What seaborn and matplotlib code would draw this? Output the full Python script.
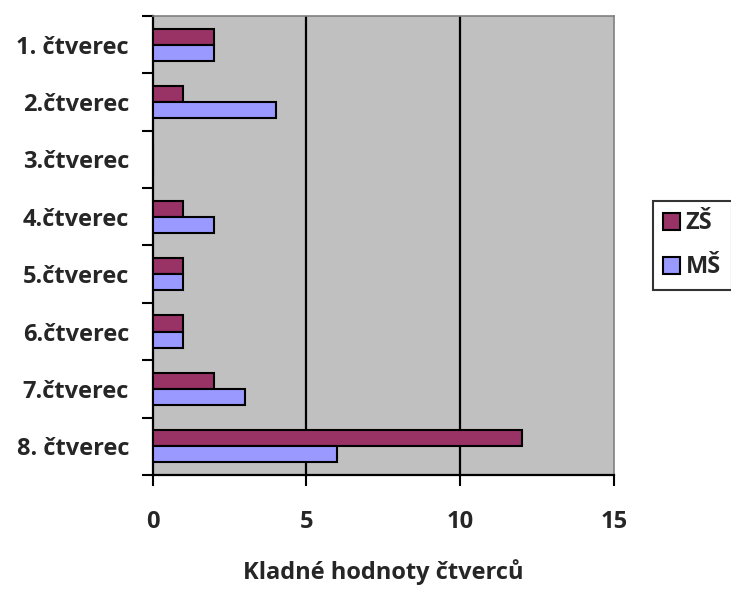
import matplotlib
matplotlib.use("Agg")
import matplotlib.pyplot as plt
import seaborn as sns
import pandas as pd
import numpy as np
from matplotlib.patches import Patch

categories = ["1. čtverec", "2.čtverec", "3.čtverec", "4.čtverec",
              "5.čtverec", "6.čtverec", "7.čtverec", "8. čtverec"]
zs_values = [2, 1, 0, 1, 1, 1, 2, 12]
ms_values = [2, 4, 0, 2, 1, 1, 3, 6]
series = ["ZŠ", "MŠ"]
colors = ["#993366", "#9999FF"]
x_ticks = [0, 5, 10, 15]
x_label = "Kladné hodnoty čtverců"

df = pd.DataFrame({
    "kategorie": categories * 2,
    "hodnota": zs_values + ms_values,
    "skupina": ["ZŠ"] * len(categories) + ["MŠ"] * len(categories),
})

FONT = ["Open Sans", "DejaVu Sans"]
FS = 17

sns.set_style("white")
plt.rcParams["font.family"] = FONT
plt.rcParams["font.weight"] = "bold"

fig = plt.figure(figsize=(7.31, 5.90), dpi=100)
ax = fig.add_axes([0.2089, 0.1949, 0.6311, 0.7780])
ax.set_facecolor("#C0C0C0")

sns.barplot(data=df, y="kategorie", x="hodnota", hue="skupina",
            hue_order=series, palette=colors, order=categories,
            orient="h", width=0.56, edgecolor="black", linewidth=1.5,
            saturation=1, ax=ax, legend=False, zorder=3)

ax.set_xlim(0, 15)
ax.set_ylim(len(categories) - 0.5, -0.5)

# vertical grid lines
for v in x_ticks[1:-1]:
    ax.axvline(v, color="black", linewidth=1.6, zorder=1)

ax.set_xticks(x_ticks)
ax.set_xticklabels([str(t) for t in x_ticks], fontsize=FS, fontweight="bold")
ax.tick_params(axis="x", direction="out", length=8, width=1.5, color="black",
               pad=17, bottom=True)

ax.set_yticks(range(len(categories)))
ax.set_yticklabels(categories, fontsize=FS, fontweight="bold")
ax.tick_params(axis="y", which="major", length=0, pad=17)
ax.set_yticks(np.arange(-0.5, len(categories) + 0.5, 1), minor=True)
ax.tick_params(axis="y", which="minor", direction="out", length=8, width=1.5,
               color="black", left=True)

ax.set_ylabel("")
ax.set_xlabel(x_label, fontsize=FS, fontweight="bold", labelpad=18)

for side in ["left", "bottom"]:
    ax.spines[side].set_color("black")
    ax.spines[side].set_linewidth(1.6)
for side in ["top", "right"]:
    ax.spines[side].set_color("#808080")
    ax.spines[side].set_linewidth(1.2)

handles = [Patch(facecolor=c, edgecolor="black", linewidth=1.5) for c in colors]
leg = fig.legend(handles, series, loc="center left",
                 bbox_to_anchor=(0.893, 0.584), frameon=True,
                 prop={"family": FONT, "weight": "bold", "size": FS},
                 handlelength=0.7, handleheight=0.75, handletextpad=0.25,
                 labelspacing=0.85, borderpad=0.45, borderaxespad=0,
                 fancybox=False)
leg.get_frame().set_edgecolor("black")
leg.get_frame().set_linewidth(1.5)

fig.savefig("out.png", dpi=100)
